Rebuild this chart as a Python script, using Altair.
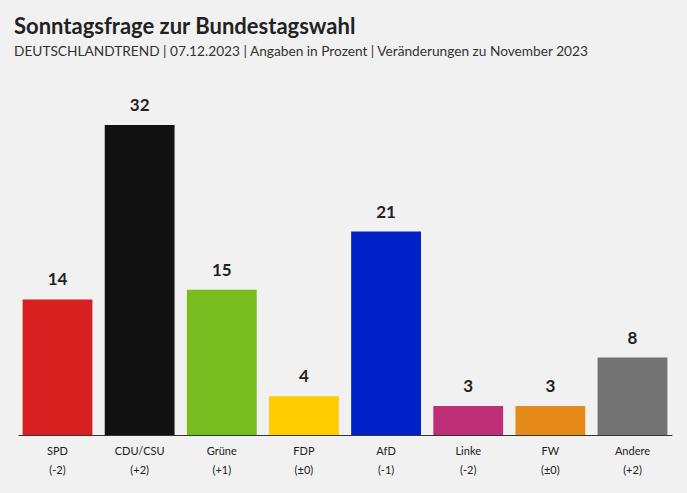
import altair as alt
import pandas as pd

parties = ["SPD", "CDU/CSU", "Grüne", "FDP", "AfD", "Linke", "FW", "Andere"]
values = [14, 32, 15, 4, 21, 3, 3, 8]
changes = ["(-2)", "(+2)", "(+1)", "(±0)", "(-1)", "(-2)", "(±0)", "(+2)"]
colors = ["#d7201f", "#121212", "#79bc1f", "#ffcc00", "#0020c8", "#be2f78", "#e68a19", "#737373"]

df = pd.DataFrame({
    "party": parties,
    "value": values,
    "change": changes,
})
df["label"] = df["party"] + "|" + df["change"]
order = df["label"].tolist()

FONT = "Lato"

x = alt.X(
    "label:N",
    sort=order,
    scale=alt.Scale(paddingInner=0.15, paddingOuter=0.056),
    axis=alt.Axis(
        title=None,
        labelAngle=0,
        labelExpr="split(datum.label, '|')",
        labelFont=FONT,
        labelFontSize=11,
        labelColor="#222222",
        labelLineHeight=19,
        labelPadding=10,
        labelBaseline="top",
        ticks=False,
        domainColor="#333333",
        domainWidth=1,
        grid=False,
    ),
)
y = alt.Y("value:Q", scale=alt.Scale(domain=[0, 32], nice=False), axis=None)

base = alt.Chart(df).encode(x=x, y=y)

bars = base.mark_bar().encode(
    color=alt.Color("label:N", sort=order,
                    scale=alt.Scale(domain=order, range=colors), legend=None)
)
text = base.mark_text(
    font=FONT, fontSize=17, fontWeight="bold", color="#222222",
    baseline="alphabetic", dy=-14
).encode(text="value:Q")

chart = (bars + text).properties(
    width=654,
    height=310,
    autosize=alt.AutoSizeParams(type="none"),
    padding={"left": 18, "top": 125, "right": 15, "bottom": 58},
    background="#f1f1f1",
    title=alt.TitleParams(
        text="Sonntagsfrage zur Bundestagswahl",
        subtitle="DEUTSCHLANDTREND | 07.12.2023 | Angaben in Prozent | Veränderungen zu November 2023",
        anchor="start",
        frame="group",
        font=FONT,
        fontSize=22,
        fontWeight="bold",
        color="#222222",
        subtitleFont=FONT,
        subtitleFontSize=13.7,
        subtitleColor="#333333",
        subtitlePadding=6,
        offset=37,
        dx=-4,
    ),
).configure_view(stroke=None)

chart.save("out.html", embed_options={"renderer": "svg", "actions": False})
